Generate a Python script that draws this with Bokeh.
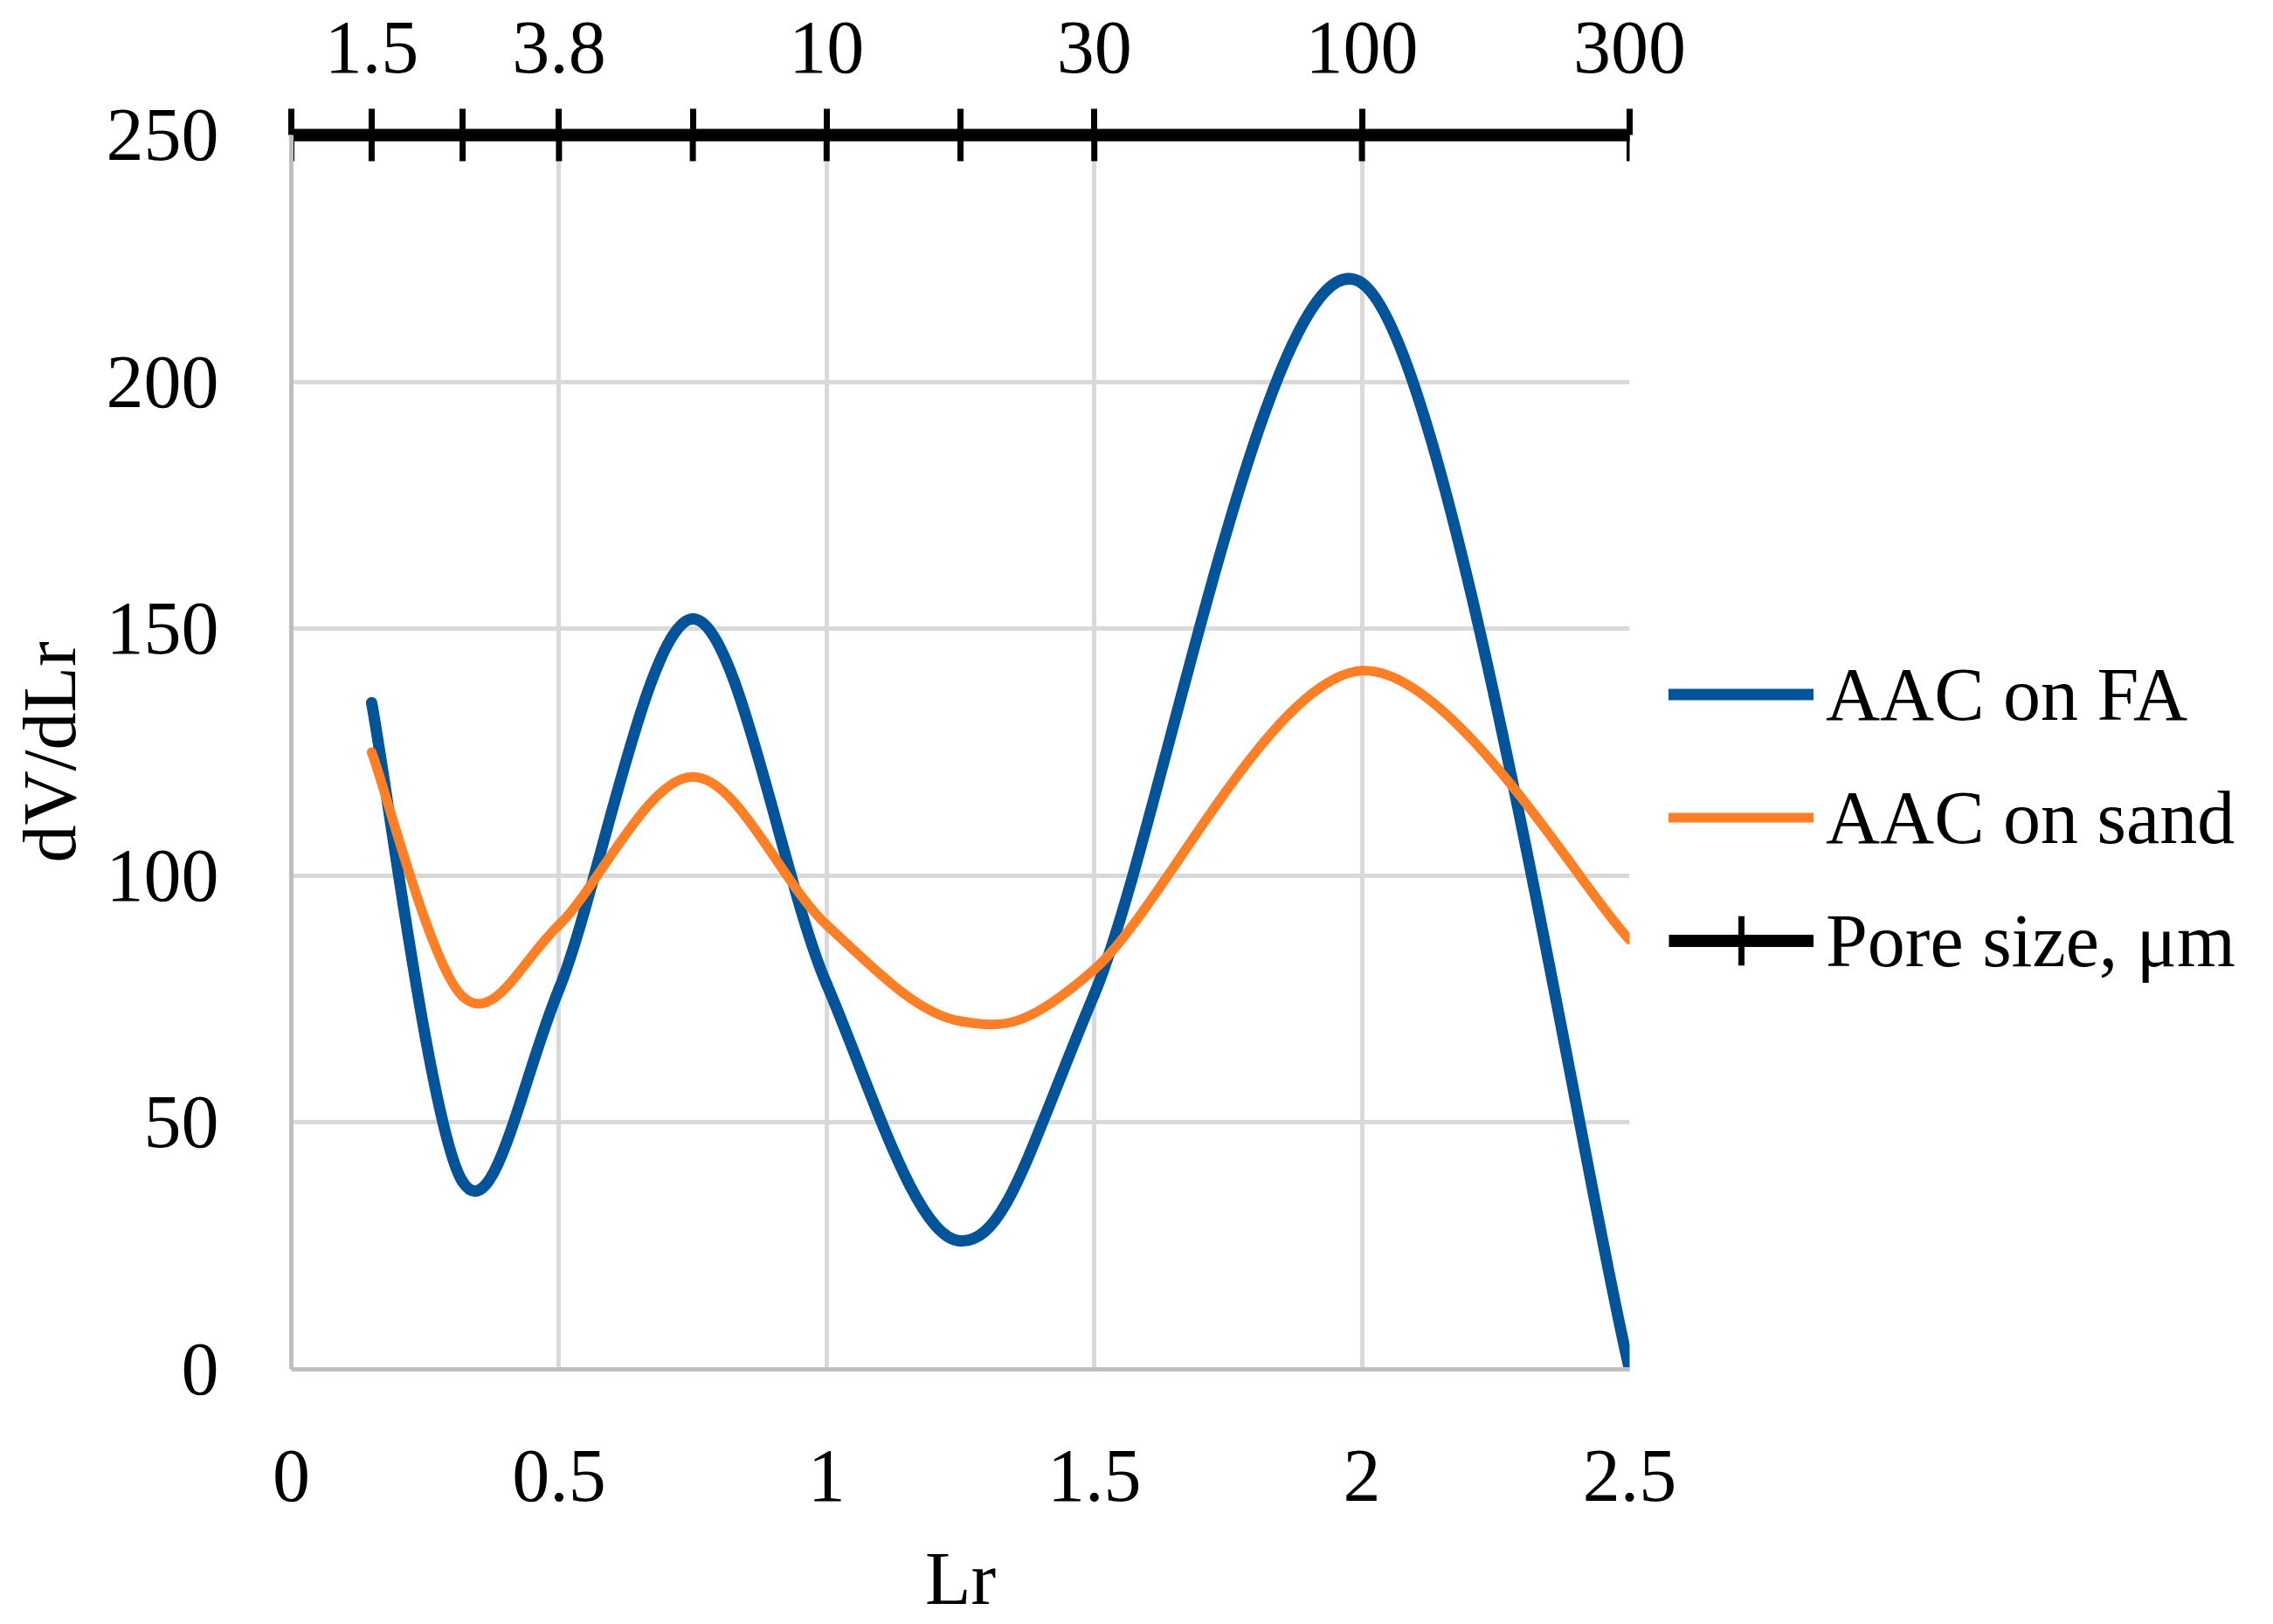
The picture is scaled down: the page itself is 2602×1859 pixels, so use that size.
from bokeh.plotting import figure
from bokeh.models import Range1d, LinearAxis, FixedTicker, Legend, LegendItem, ColumnDataSource
from bokeh.embed import file_html
from bokeh.resources import INLINE

# ---- data ----
lr = [0.15, 0.32, 0.5, 0.75, 1.0, 1.25, 1.5, 2.0, 2.5]
aac_fa = [135, 38, 77, 152, 78, 26, 76, 220, 0]
aac_sand = [125, 75.5, 90, 120, 90, 70.5, 81, 141.5, 87]
pore_lr = [0, 0.15, 0.32, 0.5, 0.75, 1.0, 1.25, 1.5, 2.0, 2.5]
pore_y = [250, 250, 250, 250, 250, 250, 250, 250, 250, 250]
pore_label_pos = [0.15, 0.5, 1.0, 1.5, 2.0, 2.5]
pore_labels = ["1.5", "3.8", "10", "30", "100", "300"]
x_ticks = [0, 0.5, 1, 1.5, 2, 2.5]
y_ticks = [0, 50, 100, 150, 200, 250]

FONT = "Liberation Serif"
FS = "86px"
BLUE = "#02549A"
ORANGE = "#FF7F27"


def smooth_segments(xs, ys):
    """Bezier control points (Excel-like smoothing) from the data points."""
    n = len(xs)
    d = dict(x0=[], y0=[], x1=[], y1=[], cx0=[], cy0=[], cx1=[], cy1=[])
    for i in range(n - 1):
        a = max(i - 1, 0)
        b = min(i + 2, n - 1)
        d["x0"].append(xs[i]); d["y0"].append(ys[i])
        d["x1"].append(xs[i + 1]); d["y1"].append(ys[i + 1])
        d["cx0"].append(xs[i] + (xs[i + 1] - xs[a]) / 6.0)
        d["cy0"].append(ys[i] + (ys[i + 1] - ys[a]) / 6.0)
        d["cx1"].append(xs[i + 1] - (xs[b] - xs[i]) / 6.0)
        d["cy1"].append(ys[i + 1] - (ys[b] - ys[i]) / 6.0)
    return ColumnDataSource(d)


p = figure(frame_width=1532, frame_height=1413,
           x_range=Range1d(0, 2.5), y_range=Range1d(0, 250),
           output_backend="svg", toolbar_location=None,
           min_border_left=333, min_border_top=154,
           min_border_right=720, min_border_bottom=276,
           x_axis_location="below", y_axis_location="left")
p.outline_line_color = None
p.background_fill_color = "white"
p.border_fill_color = "white"

# grid
p.xgrid.ticker = FixedTicker(ticks=x_ticks)
p.ygrid.ticker = FixedTicker(ticks=y_ticks)
for g in (p.xgrid, p.ygrid):
    g.grid_line_color = "#D9D9D9"
    g.grid_line_width = 5

# bottom / left axes
xa = p.xaxis[0]
xa.ticker = FixedTicker(ticks=x_ticks)
xa.axis_label = "Lr"
ya = p.yaxis[0]
ya.ticker = FixedTicker(ticks=y_ticks)
ya.axis_label = "dV/dLr"
for ax in (xa, ya):
    ax.axis_line_color = "#BFBFBF"
    ax.axis_line_width = 5
    ax.major_tick_line_color = None
    ax.minor_tick_line_color = None
    ax.major_tick_out = 0
    ax.major_tick_in = 0
    ax.minor_tick_out = 0
    ax.minor_tick_in = 0
    ax.major_label_text_font = FONT
    ax.major_label_text_font_size = FS
    ax.major_label_text_color = "black"
    ax.axis_label_text_font = FONT
    ax.axis_label_text_font_size = FS
    ax.axis_label_text_font_style = "normal"
    ax.axis_label_text_color = "black"
xa.major_label_standoff = 93
xa.axis_label_standoff = 38
ya.major_label_standoff = 83
ya.axis_label_standoff = 14

# top axis: pore size scale
top = LinearAxis(ticker=FixedTicker(ticks=pore_lr),
                 bounds=(-0.046, 2.546),
                 major_label_overrides={**{v: "" for v in pore_lr},
                                        **dict(zip(pore_label_pos, pore_labels))})
top.axis_line_color = "black"
top.axis_line_width = 14
top.major_tick_line_color = "black"
top.major_tick_line_width = 7
top.major_tick_out = 30
top.major_tick_in = 0
top.minor_tick_line_color = None
top.major_label_standoff = 42
top.major_label_text_baseline = "alphabetic"
top.major_label_text_font = FONT
top.major_label_text_font_size = FS
top.major_label_text_color = "black"
p.add_layout(top, "above")

# series
src_fa = smooth_segments(lr, aac_fa)
src_sand = smooth_segments(lr, aac_sand)
r_fa = p.bezier(x0="x0", y0="y0", x1="x1", y1="y1", cx0="cx0", cy0="cy0",
                cx1="cx1", cy1="cy1", source=src_fa, line_color=BLUE,
                line_width=13, line_cap="round")
r_sand = p.bezier(x0="x0", y0="y0", x1="x1", y1="y1", cx0="cx0", cy0="cy0",
                  cx1="cx1", cy1="cy1", source=src_sand, line_color=ORANGE,
                  line_width=11, line_cap="round")
r_pl = p.line(pore_lr, pore_y, line_color="black", line_width=14)
r_pm = p.scatter(pore_lr, pore_y, marker="cross", size=60, line_color="black",
                 line_width=7)

legend = Legend(items=[LegendItem(label="AAC on FA", renderers=[r_fa]),
                       LegendItem(label="AAC on sand", renderers=[r_sand]),
                       LegendItem(label="Pore size, μm", renderers=[r_pl, r_pm])],
                location=(45, 420))
legend.label_text_font = FONT
legend.label_text_font_size = FS
legend.label_text_color = "black"
legend.glyph_width = 166
legend.glyph_height = 141
legend.label_height = 141
legend.label_standoff = 14
legend.spacing = 0
legend.padding = 0
legend.margin = 0
legend.border_line_color = None
legend.background_fill_alpha = 0
p.add_layout(legend, "right")

open("out.html", "w").write(file_html(p, INLINE))
